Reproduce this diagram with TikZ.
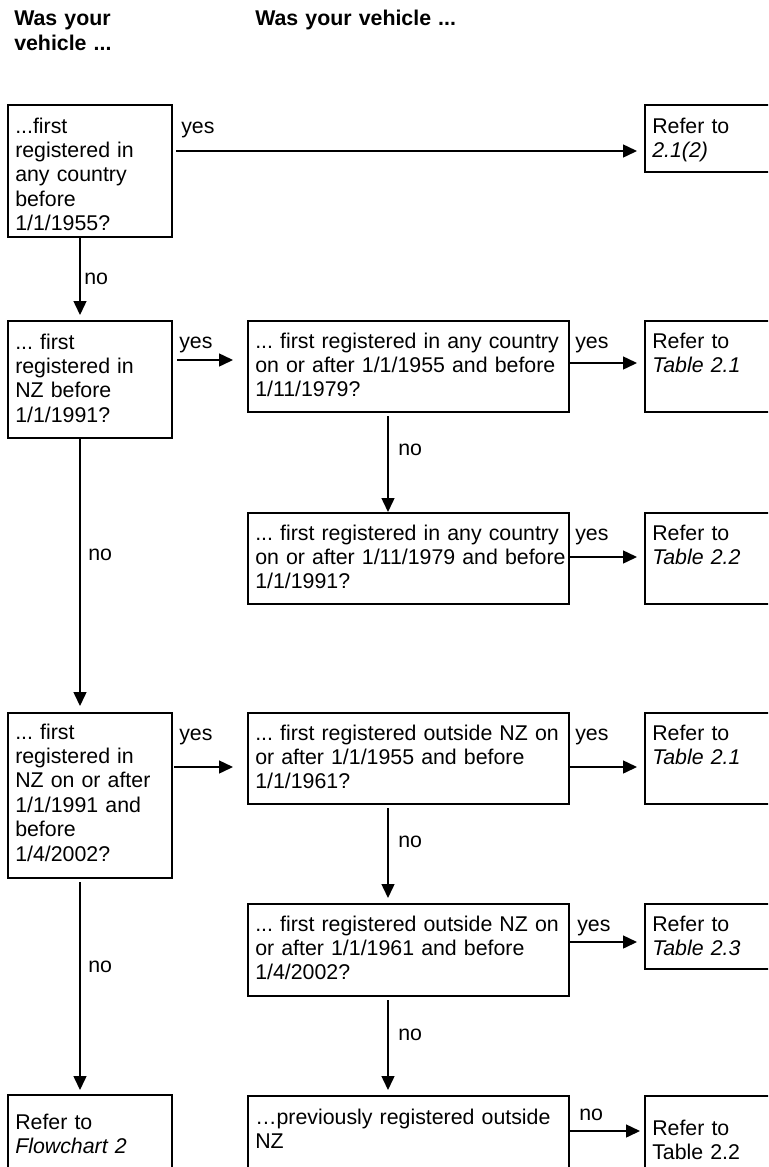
\documentclass[tikz,border=0pt]{standalone}
\usepackage{fontspec}
\setmainfont{Liberation Sans}
\usetikzlibrary{arrows.meta,calc}
\frenchspacing
\begin{document}
\begin{tikzpicture}[x=0.75pt,y=-0.75pt,
  box/.style={draw, line width=1.6pt, inner sep=0pt, anchor=north west},
  txt/.style={inner sep=0pt, anchor=base west, align=left, text width=245pt, font=\fontsize{16}{18.3}\selectfont\frenchspacing},
  hdr/.style={txt, font=\fontsize{16}{18.75}\selectfont\bfseries\frenchspacing},
  lbl/.style={inner sep=0pt, anchor=base west, font=\fontsize{16}{18}\selectfont},
  arr/.style={line width=1.1pt, -{Triangle[length=10.5pt,width=9.75pt]}},
]
\useasboundingbox (0,0) rectangle (768,1167);
\clip (0,0) rectangle (768,1167);

% headers
\node[hdr] (h1) at (14,25) {Was your\\vehicle ...};
\node[hdr] (h2) at (255,25) {Was your vehicle ...};

% boxes
\node[box, minimum width=123pt, minimum height=99pt] (A) at (7,104) {};
\node[box, minimum width=120pt, minimum height=50.25pt] (R1) at (644,104) {};
\node[box, minimum width=123pt, minimum height=87.75pt] (B) at (7,320) {};
\node[box, minimum width=240.75pt, minimum height=68.25pt] (C) at (247,320) {};
\node[box, minimum width=120pt, minimum height=68.25pt] (R2) at (644,320) {};
\node[box, minimum width=240.75pt, minimum height=68.25pt] (D) at (247,512) {};
\node[box, minimum width=120pt, minimum height=68.25pt] (R3) at (644,512) {};
\node[box, minimum width=123pt, minimum height=123.75pt] (E) at (7,712) {};
\node[box, minimum width=240.75pt, minimum height=68.25pt] (F) at (247,712) {};
\node[box, minimum width=120pt, minimum height=68.25pt] (R4) at (644,712) {};
\node[box, minimum width=240.75pt, minimum height=69pt] (G) at (247,903) {};
\node[box, minimum width=120pt, minimum height=48.75pt] (R5) at (644,903) {};
\node[box, minimum width=123pt, minimum height=90pt] (I) at (7,1094) {};
\node[box, minimum width=240.75pt, minimum height=90pt] (H) at (247,1095) {};
\node[box, minimum width=120pt, minimum height=90pt] (R6) at (644,1095) {};

% box texts
\node[txt] (At) at ($(A.north west)+(8,29)$) {...first\\registered in\\any country\\before\\1/1/1955?};
\node[txt] (R1t) at ($(R1.north west)+(8,29)$) {Refer to\\\textit{2.1(2)}};
\node[txt] (Bt) at ($(B.north west)+(8,29)$) {... first\\registered in\\NZ before\\1/1/1991?};
\node[txt] (Ct) at ($(C.north west)+(8,28)$) {... first registered in any country\\on or after 1/1/1955 and before\\1/11/1979?};
\node[txt] (R2t) at ($(R2.north west)+(8,28)$) {Refer to\\\textit{Table 2.1}};
\node[txt] (Dt) at ($(D.north west)+(8,28)$) {... first registered in any country\\on or after 1/11/1979 and before\\1/1/1991?};
\node[txt] (R3t) at ($(R3.north west)+(8,28)$) {Refer to\\\textit{Table 2.2}};
\node[txt] (Et) at ($(E.north west)+(8,27)$) {... first\\registered in\\NZ on or after\\1/1/1991 and\\before\\1/4/2002?};
\node[txt] (Ft) at ($(F.north west)+(8,28)$) {... first registered outside NZ on\\or after 1/1/1955 and before\\1/1/1961?};
\node[txt] (R4t) at ($(R4.north west)+(8,28)$) {Refer to\\\textit{Table 2.1}};
\node[txt] (Gt) at ($(G.north west)+(8,28)$) {... first registered outside NZ on\\or after 1/1/1961 and before\\1/4/2002?};
\node[txt] (R5t) at ($(R5.north west)+(8,28)$) {Refer to\\\textit{Table 2.3}};
\node[txt] (It) at ($(I.north west)+(8,35)$) {Refer to\\\textit{Flowchart 2}};
\node[txt] (Ht) at ($(H.north west)+(8,29)$) {…previously registered outside\\NZ};
\node[txt] (R6t) at ($(R6.north west)+(8,40)$) {Refer to\\Table 2.2};

% connectors
\draw[arr] ($(A.north east)+(3,47)$) -- ($(R1.north west)+(-7,47)$);
\draw[arr] ($(A.south west)+(73,0)$) -- ($(B.north west)+(73,-5)$);
\draw[arr] ($(B.north east)+(4,40)$) -- ($(C.north west)+(-14,40)$);
\draw[arr] ($(C.north east)+(0,43)$) -- ($(R2.north west)+(-7,43)$);
\draw[arr] ($(C.south west)+(141,3)$) -- ($(D.north west)+(141,0)$);
\draw[arr] ($(D.north east)+(0,45)$) -- ($(R3.north west)+(-7,45)$);
\draw[arr] ($(B.south west)+(73,0)$) -- ($(E.north west)+(73,-6)$);
\draw[arr] ($(E.north east)+(1,55)$) -- ($(F.north west)+(-14,55)$);
\draw[arr] ($(F.north east)+(0,55)$) -- ($(R4.north west)+(-7,55)$);
\draw[arr] ($(F.south west)+(141,3)$) -- ($(G.north west)+(141,-5)$);
\draw[arr] ($(G.north east)+(0,39)$) -- ($(R5.north west)+(-7,39)$);
\draw[arr] ($(G.south west)+(141,3)$) -- ($(H.north west)+(141,-5)$);
\draw[arr] ($(E.south west)+(73,3)$) -- ($(I.north west)+(73,-4)$);
\draw[arr] ($(H.north east)+(0,36)$) -- ($(R6.north west)+(-4,36)$);

% connector labels
\node[lbl] (l1) at (181,133) {yes};
\node[lbl] (l2) at (84,284) {no};
\node[lbl] (l3) at (179,348) {yes};
\node[lbl] (l4) at (575,348) {yes};
\node[lbl] (l5) at (398,455) {no};
\node[lbl] (l6) at (575,540) {yes};
\node[lbl] (l7) at (88,560) {no};
\node[lbl] (l8) at (179,740) {yes};
\node[lbl] (l9) at (575,740) {yes};
\node[lbl] (l10) at (398,847) {no};
\node[lbl] (l11) at (577,931) {yes};
\node[lbl] (l12) at (398,1040) {no};
\node[lbl] (l13) at (88,972) {no};
\node[lbl] (l14) at (579,1120) {no};
\end{tikzpicture}
\end{document}
